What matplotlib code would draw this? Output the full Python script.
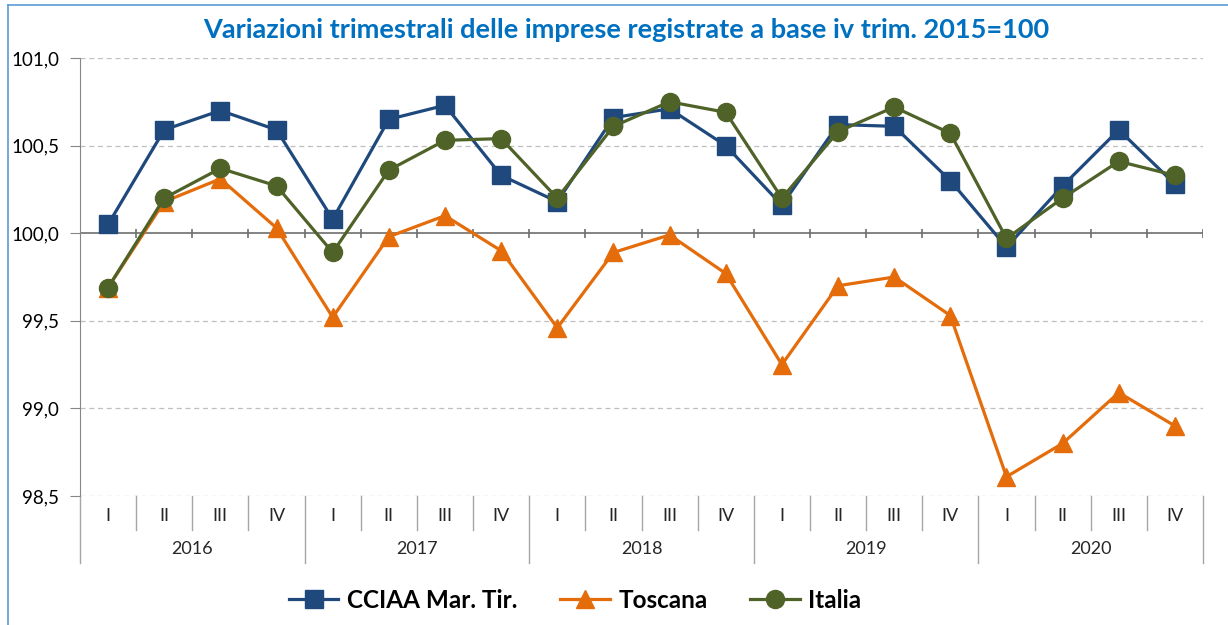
import matplotlib
matplotlib.use("Agg")
import matplotlib.pyplot as plt
from matplotlib.lines import Line2D
import matplotlib.transforms as mtrans

years = ["2016", "2017", "2018", "2019", "2020"]
quarters = ["I", "II", "III", "IV"]

cciaa = [100.05, 100.59, 100.70, 100.59,
         100.08, 100.65, 100.73, 100.33,
         100.18, 100.66, 100.71, 100.50,
         100.16, 100.62, 100.61, 100.30,
         99.92, 100.27, 100.59, 100.28]
toscana = [99.69, 100.18, 100.31, 100.03,
           99.52, 99.98, 100.10, 99.90,
           99.46, 99.89, 99.99, 99.77,
           99.25, 99.70, 99.75, 99.53,
           98.61, 98.80, 99.09, 98.90]
italia = [99.69, 100.20, 100.37, 100.27,
          99.89, 100.36, 100.53, 100.54,
          100.20, 100.61, 100.75, 100.69,
          100.20, 100.58, 100.72, 100.57,
          99.97, 100.20, 100.41, 100.33]
yticks = [98.5, 99.0, 99.5, 100.0, 100.5, 101.0]

plt.rcParams['font.family'] = ['Lato', 'DejaVu Sans']

W, H = 1228, 625
fig = plt.figure(figsize=(W / 100, H / 100), dpi=100)
ax = fig.add_axes([80 / W, 1 - 496 / H, (1203 - 80) / W, (496 - 58) / H])

n = len(years) * len(quarters)
x = list(range(n))

c_blue = "#1F497D"
c_orange = "#E46C0A"
c_green = "#4F6228"

ax.plot(x, cciaa, color=c_blue, lw=2.3, marker="s", ms=12.5, zorder=3,
        label="CCIAA Mar. Tir.")
ax.plot(x, toscana, color=c_orange, lw=2.3, marker="^", ms=13.5, zorder=3,
        label="Toscana")
ax.plot(x, italia, color=c_green, lw=2.3, marker="o", ms=13, zorder=4,
        label="Italia")

ax.set_xlim(-0.5, n - 0.5)
ax.set_ylim(98.5, 101.0)
ax.set_yticks(yticks)
ax.set_yticklabels([f"{v:.1f}".replace(".", ",") for v in yticks], fontsize=13.5)
ax.tick_params(axis="y", length=7, color="#868686", pad=8)
ax.set_xticks([])
for v in yticks:
    if v != 100.0:
        ax.axhline(v, color="#BFBFBF", lw=0.9, ls=(0, (4, 3)), zorder=1)
for s in ["top", "right", "bottom"]:
    ax.spines[s].set_visible(False)
ax.spines["left"].set_color("#868686")

# horizontal category axis at 100
ax.axhline(100.0, color="#6E6E6E", lw=1.2, zorder=2)
for k in range(n + 1):
    ax.vlines(k - 0.5, 100.0 - 0.025, 100.0 + 0.025, color="#6E6E6E", lw=1.2, zorder=2)

# bottom multi-level labels
tr = mtrans.blended_transform_factory(ax.transData, ax.transAxes)
px = 1.0 / (496 - 58)
for k in range(n + 1):
    ybot = -67 * px if k % 4 == 0 else -34 * px
    ax.add_line(Line2D([k - 0.5, k - 0.5], [0, ybot], transform=tr,
                       color="#A6A6A6", lw=1.0, clip_on=False))
for k in range(n):
    ax.text(k, -20 * px, quarters[k % 4], transform=tr, ha="center", va="center",
            fontsize=13, color="#262626")
for i, yr in enumerate(years):
    ax.text(i * 4 + 1.5, -53 * px, yr, transform=tr, ha="center", va="center",
            fontsize=13, color="#262626")

fig.text(626 / W, 1 - 30 / H, "Variazioni trimestrali delle imprese registrate a base iv trim. 2015=100",
         ha="center", va="center", fontsize=19.5, fontweight="bold", color="#0070C0")

leg = fig.legend(loc="center", bbox_to_anchor=(575 / W, 1 - 600 / H), ncol=3, frameon=False,
                 prop={"weight": "bold", "size": 17.5}, handlelength=2.05, columnspacing=1.75,
                 handletextpad=0.35)

# frame border
fig.add_artist(Line2D([8 / W, 8 / W], [0, 1 - 5 / H], color="#5B9BD5", lw=1.2))
fig.add_artist(Line2D([8 / W, 1], [1 - 5 / H, 1 - 5 / H], color="#5B9BD5", lw=1.2))

fig.savefig("out.png", dpi=100)
